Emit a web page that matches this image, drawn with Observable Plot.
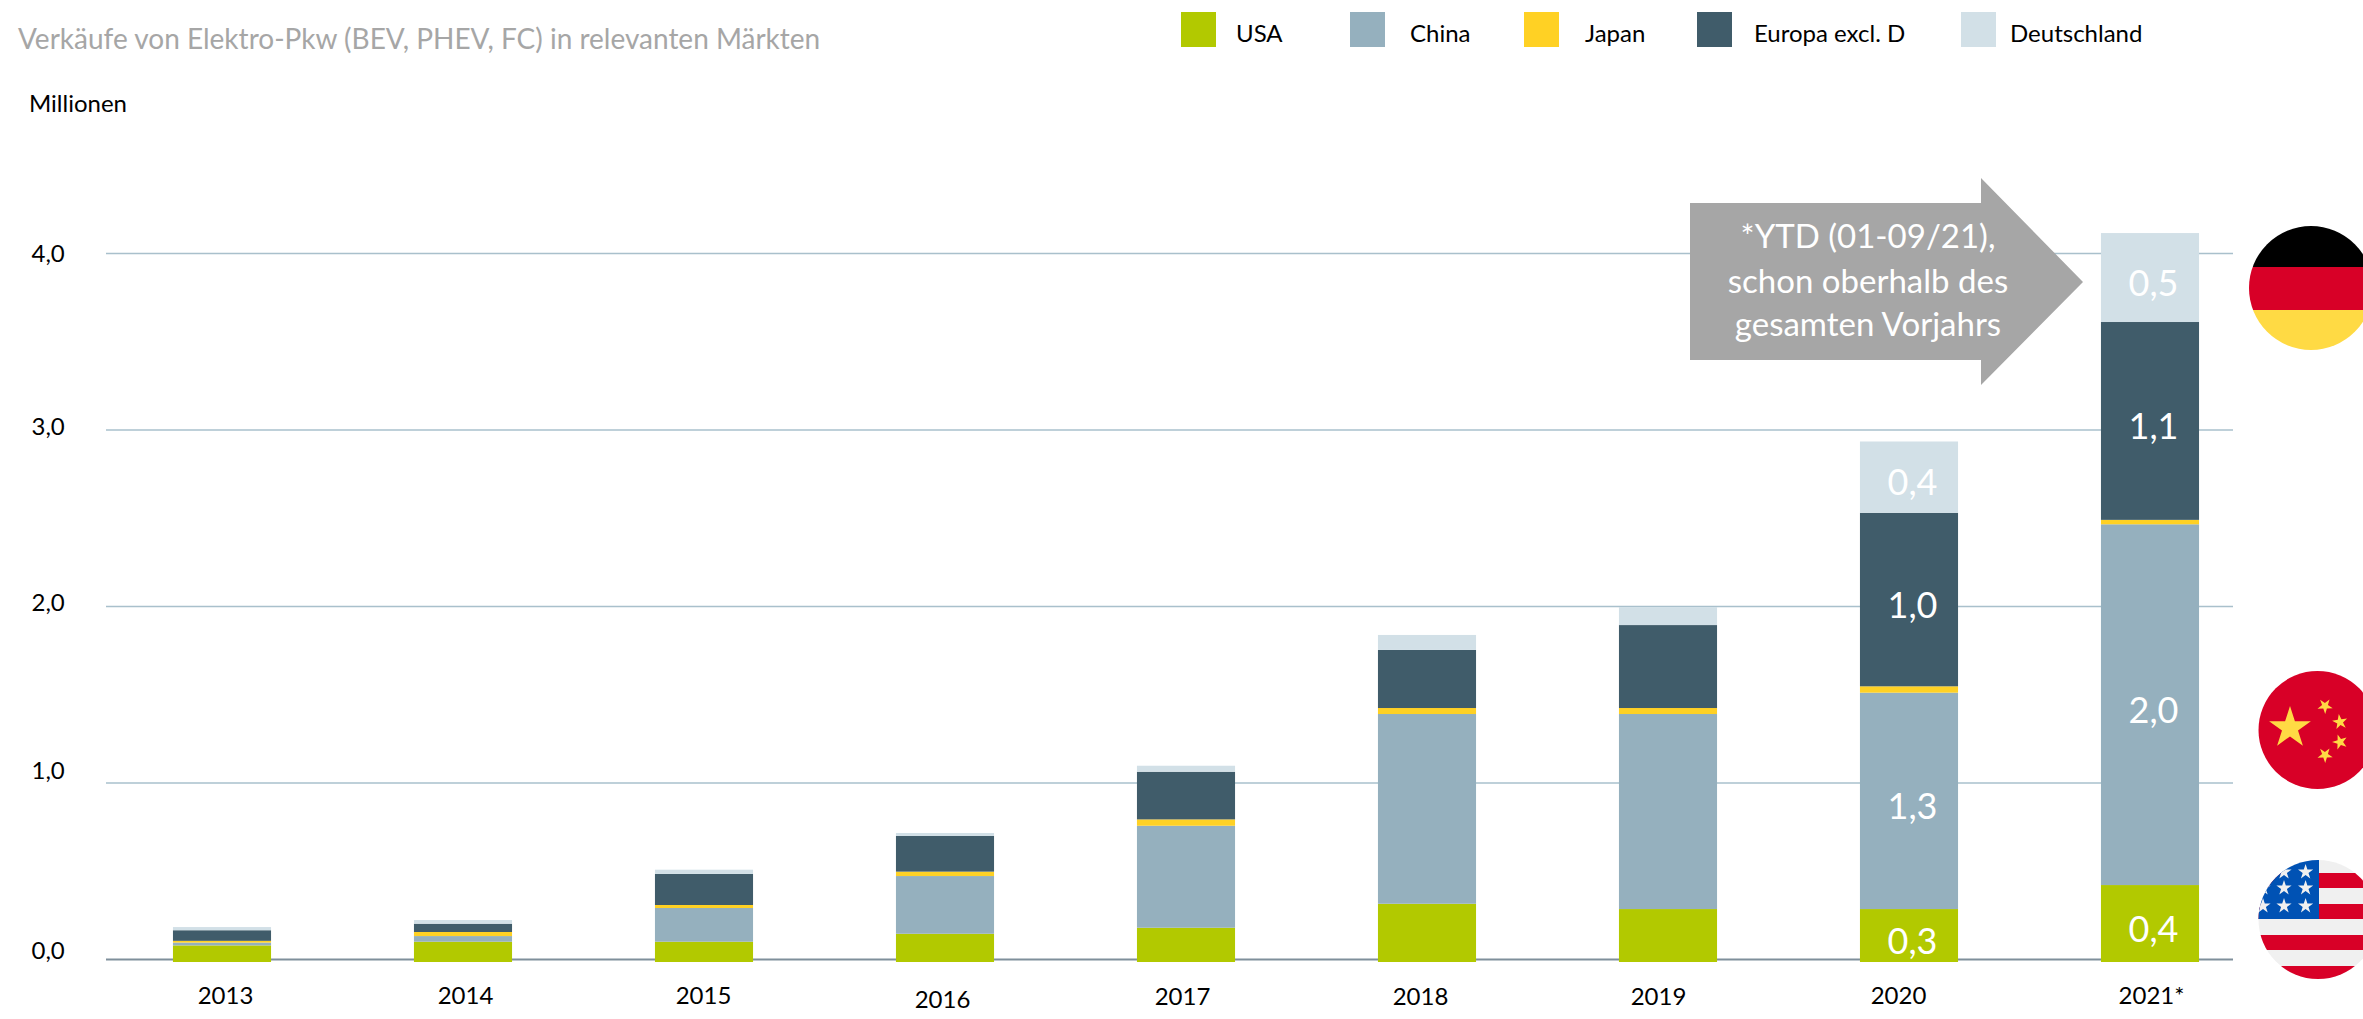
<!DOCTYPE html>
<html lang="de"><head><meta charset="utf-8">
<script src="https://cdn.jsdelivr.net/npm/d3@7"></script>
<script src="https://cdn.jsdelivr.net/npm/@observablehq/plot@0.6"></script>
<style>
html,body{margin:0;padding:0;background:#fff;width:2363px;height:1019px;overflow:hidden;font-family:Lato,sans-serif}
#root{position:relative;width:2363px;height:1019px}
#root svg{position:absolute;left:0;top:0}
.abs{position:absolute;white-space:nowrap;line-height:1;transform-origin:0 50%}
.sw{position:absolute;width:35px;height:35px;top:12px}
</style></head><body><div id="root"></div>
<script>
const years = ["2013","2014","2015","2016","2017","2018","2019","2020","2021*"];
const seriesNames = ["USA","China","Japan","Europa excl. D","Deutschland"];
const seriesColors = ["#b2c900","#95b0be","#ffd124","#405c6a","#d2e0e7"];
const usa = [0.094,0.115,0.115,0.160,0.194,0.330,0.300,0.300,0.436];
const china = [0.016,0.032,0.191,0.327,0.578,1.075,1.105,1.226,2.044];
const japan = [0.010,0.023,0.017,0.025,0.036,0.034,0.034,0.036,0.025];
const europa = [0.060,0.047,0.176,0.202,0.270,0.329,0.470,0.983,1.121];
const deutschland = [0.018,0.021,0.024,0.017,0.034,0.085,0.102,0.404,0.504];
const valueLabels2020 = ["0,3","1,3","","1,0","0,4"];
const valueLabels2021 = ["0,4","2,0","","1,1","0,5"];
const yTicks = [0,1,2,3,4];
const yTickNudge = [-8,-12,-3,-3,1];
const xTickNudge = [[3,0],[2,0],[-1,0],[-3,4],[-4,1],[-7,1],[-10,1],[-11,0],[1,0]];
const seriesValues = [usa,china,japan,europa,deutschland];
const rows = years.flatMap((year,i)=>seriesNames.map((series,s)=>({
  year,series,value:seriesValues[s][i],
  label: i===7?valueLabels2020[s]: i===8?valueLabels2021[s]:""
})));
const de = v=>v.toFixed(1).replace(".",",");
function star(cx,cy,r,rot=0){let p=[];for(let i=0;i<10;i++){const a=-Math.PI/2+rot+i*Math.PI/5,q=i%2?r*0.382:r;p.push((cx+q*Math.cos(a)).toFixed(1)+","+(cy+q*Math.sin(a)).toFixed(1));}return `<polygon points="${p.join(" ")}"`;}
const decor = () => {
  const g = document.createElementNS("http://www.w3.org/2000/svg","g");
  let usStars="";
  for(const [x,y] of [[2284,872],[2305.6,872],[2263,888],[2284,888],[2305.6,888],[2263,906],[2284,906],[2305.6,906]]) usStars+=star(x,y,8)+` fill="#f0f0f0"/>`;
  g.innerHTML = `
  <polygon points="1690,203 1981,203 1981,178 2083,282 1981,385 1981,360 1690,360" fill="#a6a6a6"/>
  <g font-family="Lato,sans-serif" font-size="33" fill="#fff" text-anchor="middle">
   <text x="1868" y="248">*YTD (01-09/21),</text><text x="1868" y="293">schon oberhalb des</text><text x="1868" y="336">gesamten Vorjahrs</text>
  </g>
  <defs>
   <clipPath id="cd"><circle cx="2311" cy="288" r="62"/></clipPath>
   <clipPath id="cc"><circle cx="2317.5" cy="730" r="59"/></clipPath>
   <clipPath id="cu"><circle cx="2318" cy="919.5" r="59.5"/></clipPath>
  </defs>
  <g clip-path="url(#cd)"><rect x="2240" y="226" width="130" height="41" fill="#000"/><rect x="2240" y="267" width="130" height="43" fill="#d80027"/><rect x="2240" y="310" width="130" height="41" fill="#ffda44"/></g>
  <circle cx="2317.5" cy="730" r="59" fill="#d80027"/>
  ${star(2290,728,22)} fill="#ffda44"/>
  ${star(2325,706,8,0.6)} fill="#ffda44"/>${star(2340,722,8,1.1)} fill="#ffda44"/>${star(2340,742,8,-0.3)} fill="#ffda44"/>${star(2325,755,8,0.6)} fill="#ffda44"/>
  <g clip-path="url(#cu)"><rect x="2250" y="855" width="130" height="130" fill="#f0f0f0"/>
   <rect x="2250" y="873" width="130" height="15" fill="#d80027"/><rect x="2250" y="904" width="130" height="15" fill="#d80027"/><rect x="2250" y="935" width="130" height="15" fill="#d80027"/><rect x="2250" y="966" width="130" height="15" fill="#d80027"/>
   <rect x="2250" y="855" width="69" height="64" fill="#0052b4"/>${usStars}</g>`;
  return g;
};
const tickFont = {fontSize:24};
const chart = Plot.plot({
  width:2363,height:1019,marginLeft:106,marginRight:130,marginTop:253,marginBottom:60,
  style:{fontFamily:"Lato,sans-serif",background:"transparent",color:"#000",overflow:"hidden"},
  x:{domain:years,range:[101.5,2270.5],paddingInner:0.593,paddingOuter:0.2965,round:false,axis:null},
  y:{domain:[0,4],range:[959,253],axis:null},
  color:{domain:seriesNames,range:seriesColors},
  marks:[
    Plot.ruleY([1,2,3,4],{stroke:"#a9c0cc",strokeWidth:1.5}),
    Plot.ruleY([0],{stroke:"#7f8f9b",strokeWidth:2}),
    Plot.barY(rows,{x:"year",y:"value",fill:"series",order:seriesNames,dy:3}),
    Plot.text(rows,Plot.stackY({x:"year",y:"value",z:"series",order:seriesNames,text:"label",fill:"#fff",fontSize:36,dy:9,dx:3})),
    ...yTicks.map((t,i)=>Plot.axisY({ticks:[t],tickSize:0,anchor:"left",frameAnchor:"left",tickFormat:de,fontSize:24,textAnchor:"start",dx:-75,dy:yTickNudge[i],tickPadding:0,label:null})),
    ...years.map((y,i)=>Plot.axisX({ticks:[y],tickSize:0,anchor:"bottom",fontSize:24,dx:xTickNudge[i][0],dy:xTickNudge[i][1]+27,tickPadding:0,label:null})),
    decor
  ]
});
const root=document.getElementById("root");
root.appendChild(chart);
function add(text,css){const d=document.createElement("div");d.className="abs";d.textContent=text;d.style.cssText=css;root.appendChild(d);return d;}
add("Elektromobilität international: Verkaufsrekord in 2021","left:18px;top:-34px;font-size:38px;color:#000");
add("Verkäufe von Elektro-Pkw (BEV, PHEV, FC) in relevanten Märkten","left:18px;top:24px;font-size:28px;color:#a6a6a6");
add("Millionen","left:29px;top:91px;font-size:24px;color:#000");
const swX=[1181,1350,1524,1697,1961], txX=[1236,1410,1585,1754,2010];
seriesNames.forEach((n,i)=>{
  const s=document.createElement("div");s.className="sw";s.style.left=swX[i]+"px";s.style.background=seriesColors[i];root.appendChild(s);
  add(n,`left:${txX[i]}px;top:21px;font-size:24px;color:#000`);
});
</script></body></html>
